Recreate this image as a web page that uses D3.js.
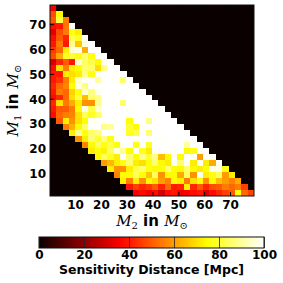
<!DOCTYPE html>
<html>
<head>
<meta charset="utf-8">
<script src="https://cdn.jsdelivr.net/npm/d3@7"></script>
<style>
  body { margin: 0; background: #fff; }
  svg { display: block; }
  .tick text { font-family: 'DejaVu Sans', sans-serif; font-weight: bold; font-size: 12px; fill: #000; }
</style>
</head>
<body>
<div id="chart"></div>
<script>
// mass bin centres (solar masses)
const m2 = [1.5, 4.0, 6.4, 8.9, 11.4, 13.9, 16.3, 18.8, 21.3, 23.7, 26.2, 28.7, 31.1, 33.6, 36.1, 38.6,
  41.0, 43.5, 46.0, 48.4, 50.9, 53.4, 55.8, 58.3, 60.8, 63.3, 65.7, 68.2, 70.7, 73.1, 75.6, 78.1]
const m1 = [2.1, 4.5, 6.9, 9.3, 11.7, 14.1, 16.5, 18.9, 21.3, 23.7, 26.1, 28.5, 30.9, 33.3, 35.7, 38.1,
  40.5, 42.9, 45.3, 47.7, 50.1, 52.5, 54.9, 57.3, 59.7, 62.1, 64.5, 66.9, 69.3, 71.7, 74.1, 76.5]
const binM2 = 2.47
const binM1 = 2.4

// rows from the highest M1 bin down to the lowest; row r starts at m2 column rowStart[r]
const rowStart = [0, 0, 0, 0, 0, 0, 0, 0, 0, 0, 0, 0, 0, 0, 0, 0, 0, 0, 0,
  1, 2, 3, 4, 5, 6, 7, 8, 9, 10, 11, 12, 13]
const distance = [
  [34],
  [48, 74],
  [50, 82, 55],
  [38, 40, 54, 99],
  [32, 48, 55, 76, 72],
  [38, 50, 42, 82, 78, 99],
  [40, 55, 40, 90, 66, 96, 100],
  [45, 52, 72, 95, 98, 62, 100, 100],
  [48, 62, 78, 80, 76, 86, 76, 100, 100],
  [30, 42, 50, 40, 95, 85, 82, 74, 98, 100],
  [38, 70, 55, 72, 75, 85, 85, 70, 88, 100, 100],
  [40, 40, 72, 70, 72, 88, 76, 99, 100, 100, 100, 100],
  [40, 44, 55, 72, 95, 99, 100, 90, 100, 100, 99, 85, 100],
  [42, 52, 56, 75, 97, 88, 99, 100, 100, 100, 100, 100, 100, 100],
  [40, 55, 52, 68, 75, 95, 88, 98, 100, 100, 100, 100, 100, 100, 100],
  [38, 42, 52, 70, 82, 65, 85, 88, 100, 100, 99, 100, 100, 100, 100, 100],
  [42, 70, 55, 62, 72, 58, 58, 88, 100, 99, 100, 85, 100, 100, 100, 100, 100],
  [40, 50, 50, 55, 74, 98, 82, 95, 100, 100, 100, 100, 99, 100, 100, 100, 100, 100],
  [38, 52, 55, 56, 70, 84, 78, 85, 99, 100, 100, 100, 100, 100, 100, 100, 100, 100, 100],
  [50, 72, 58, 70, 75, 98, 99, 100, 100, 99, 100, 75, 100, 100, 88, 100, 100, 100, 100],
  [55, 63, 74, 85, 99, 100, 88, 90, 100, 100, 80, 74, 99, 100, 100, 100, 100, 100, 100],
  [72, 90, 76, 85, 88, 100, 100, 99, 100, 78, 82, 100, 86, 100, 100, 100, 100, 100, 100],
  [58, 72, 86, 80, 88, 76, 99, 100, 100, 99, 100, 100, 100, 99, 100, 100, 100, 100, 100],
  [56, 74, 84, 77, 82, 75, 99, 100, 76, 100, 78, 100, 100, 99, 100, 100, 90, 100, 100],
  [72, 75, 73, 84, 97, 90, 75, 100, 78, 72, 99, 100, 100, 99, 100, 74, 76, 99, 100],
  [74, 84, 78, 72, 99, 86, 75, 88, 80, 88, 65, 74, 99, 74, 100, 99, 60, 100, 99],
  [60, 64, 72, 76, 86, 72, 70, 76, 86, 74, 72, 99, 86, 99, 72, 98, 72, 62, 99],
  [72, 58, 58, 72, 82, 85, 76, 74, 75, 86, 75, 74, 86, 74, 72, 75, 98, 97, 76],
  [56, 74, 74, 84, 75, 66, 84, 58, 74, 74, 62, 84, 58, 98, 72, 76, 84, 60, 72],
  [72, 56, 72, 58, 74, 70, 60, 56, 74, 72, 55, 70, 74, 58, 74, 65, 60, 56, 62],
  [40, 46, 42, 45, 50, 42, 52, 40, 42, 72, 42, 50, 42, 48, 50, 55, 52, 55, 46],
  [36, 38, 35, 38, 30, 38, 40, 35, 36, 38, 40, 32, 38, 42, 46, 50, 75, 52, 46]
]
const massTicks = [10, 20, 30, 40, 50, 60, 70]
const cbarTicks = [0, 20, 40, 60, 80, 100]

const width = 283
const height = 283
const plot = { left: 50, top: 5, right: 254, bottom: 196 }

// matplotlib "hot"
const hot = d3.scaleLinear()
  .domain([0, 36.5079, 74.6032, 100])
  .range(['#0b0000', '#ff0000', '#ffff00', '#ffffff'])
  .interpolate(d3.interpolateRgb)
  .clamp(true)

const x = d3.scaleLinear().domain([0.3, 79.3]).range([plot.left, plot.right])
const y = d3.scaleLinear().domain([0.9, 77.7]).range([plot.bottom, plot.top])

const svg = d3.select('#chart').append('svg')
  .attr('width', width)
  .attr('height', height)

svg.append('rect')
  .attr('x', plot.left).attr('y', plot.top)
  .attr('width', plot.right - plot.left).attr('height', plot.bottom - plot.top)
  .attr('fill', hot(0))

let cells = []
distance.forEach((row, r) => {
  let j = m1.length - 1 - r
  row.forEach((v, k) => {
    cells.push({ i: rowStart[r] + k, j: j, v: v })
  })
})

// snap cell edges to whole pixels so neighbouring cells meet without seams
let x0 = d => Math.round(x(m2[d.i] - binM2 / 2))
let x1 = d => Math.round(x(m2[d.i] + binM2 / 2))
let y0 = d => Math.round(y(m1[d.j] + binM1 / 2))
let y1 = d => Math.round(y(m1[d.j] - binM1 / 2))

svg.append('g')
  .attr('shape-rendering', 'crispEdges')
  .selectAll('rect')
  .data(cells)
  .enter()
  .append('rect')
  .attr('x', x0)
  .attr('y', y0)
  .attr('width', d => x1(d) - x0(d))
  .attr('height', d => y1(d) - y0(d))
  .attr('fill', d => hot(d.v))

// axes, ticks pointing inwards
svg.append('g')
  .attr('transform', 'translate(0,' + plot.bottom + ')')
  .call(d3.axisBottom(x).tickValues(massTicks).tickSize(-4).tickPadding(4))
svg.append('g')
  .attr('transform', 'translate(0,' + plot.top + ')')
  .call(d3.axisTop(x).tickValues(massTicks).tickSize(-4).tickFormat(''))
let yAxis = svg.append('g')
  .attr('transform', 'translate(' + plot.left + ',0)')
  .call(d3.axisLeft(y).tickValues(massTicks).tickSize(-4).tickPadding(4))
svg.append('g')
  .attr('transform', 'translate(' + plot.right + ',0)')
  .call(d3.axisRight(y).tickValues(massTicks).tickSize(-4).tickFormat(''))
svg.selectAll('.domain').remove()
svg.selectAll('.tick line').attr('stroke', '#000')
yAxis.selectAll('text').attr('dy', '0.36em')

svg.append('rect')
  .attr('x', plot.left).attr('y', plot.top)
  .attr('width', plot.right - plot.left).attr('height', plot.bottom - plot.top)
  .attr('fill', 'none')
  .attr('stroke', '#111')
  .attr('stroke-width', 1)

// axis labels: M_2 in M_sun
function massLabel (sel, sub) {
  sel.append('tspan')
    .attr('font-family', "'DejaVu Serif', serif").attr('font-style', 'italic').attr('font-size', 15)
    .text('M')
  sel.append('tspan')
    .attr('font-family', "'DejaVu Serif', serif").attr('font-size', 10).attr('dy', 3)
    .text(sub)
  sel.append('tspan')
    .attr('font-family', "'DejaVu Sans', sans-serif").attr('font-weight', 'bold').attr('font-size', 15).attr('dy', -3)
    .text(' in ')
  sel.append('tspan')
    .attr('font-family', "'DejaVu Serif', serif").attr('font-style', 'italic').attr('font-size', 15)
    .text('M')
  sel.append('tspan')
    .attr('font-family', "'DejaVu Serif', serif").attr('font-size', 10).attr('dy', 3)
    .text('\u2299')
}

svg.append('text')
  .attr('x', (plot.left + plot.right) / 2)
  .attr('y', 226)
  .attr('text-anchor', 'middle')
  .call(massLabel, '2')

svg.append('text')
  .attr('transform', 'translate(18,' + ((plot.top + plot.bottom) / 2) + ') rotate(-90)')
  .attr('text-anchor', 'middle')
  .call(massLabel, '1')

// colour bar
const cb = { left: 39, right: 264, top: 237, bottom: 248 }
const cx = d3.scaleLinear().domain([0, 100]).range([cb.left, cb.right])

let grad = svg.append('defs').append('linearGradient')
  .attr('id', 'hotgrad')
  .attr('x1', '0%').attr('x2', '100%')
grad.selectAll('stop')
  .data(d3.range(0, 101, 5))
  .enter()
  .append('stop')
  .attr('offset', d => d + '%')
  .attr('stop-color', d => hot(d))

svg.append('rect')
  .attr('x', cb.left).attr('y', cb.top)
  .attr('width', cb.right - cb.left).attr('height', cb.bottom - cb.top)
  .attr('fill', 'url(#hotgrad)')

svg.append('g')
  .attr('transform', 'translate(0,' + cb.bottom + ')')
  .call(d3.axisBottom(cx).tickValues(cbarTicks).tickSize(-(cb.bottom - cb.top)).tickPadding(2))
  .call(g => g.select('.domain').remove())
  .call(g => g.selectAll('.tick line').attr('stroke', '#222').attr('stroke-opacity', 0.8))

svg.append('rect')
  .attr('x', cb.left).attr('y', cb.top)
  .attr('width', cb.right - cb.left).attr('height', cb.bottom - cb.top)
  .attr('fill', 'none')
  .attr('stroke', '#111')

svg.append('text')
  .attr('x', (cb.left + cb.right) / 2)
  .attr('y', 274)
  .attr('text-anchor', 'middle')
  .attr('font-family', "'DejaVu Sans', sans-serif")
  .attr('font-weight', 'bold')
  .attr('font-size', 12.5)
  .text('Sensitivity Distance [Mpc]')
</script>
</body>
</html>
